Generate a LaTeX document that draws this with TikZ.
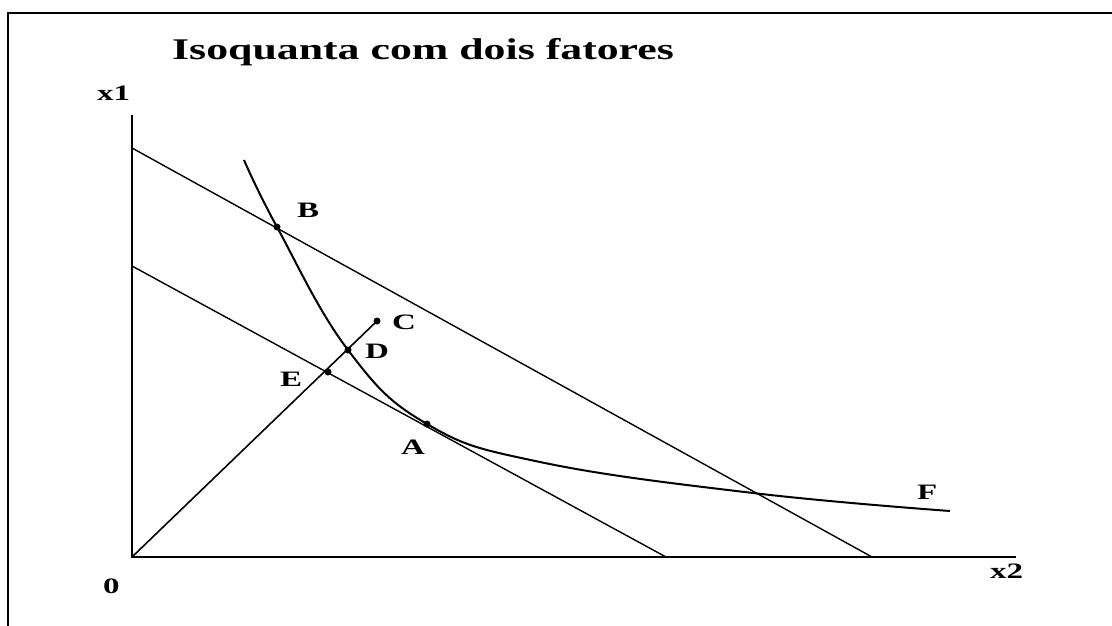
\documentclass[tikz,border=0pt]{standalone}
\usepackage{fontspec}
\setmainfont{Liberation Serif}
\newcommand\lblstretch[1]{\scalebox{1.5}[1]{#1}}
\begin{document}
\begin{tikzpicture}[x=1pt,y=-1pt,
  frame/.style={line width=2pt},
  axis/.style={line width=2pt},
  budget/.style={line width=1.4pt},
  ray/.style={line width=1.6pt},
  isoq/.style={line width=2pt},
  lab/.style={inner sep=0pt, anchor=base west, font=\fontsize{22}{26}\selectfont\bfseries},
  ttl/.style={inner sep=0pt, anchor=base west, font=\fontsize{30}{34}\selectfont\bfseries},
  pt/.style={circle, fill=black, inner sep=0pt, minimum size=7pt}]
\useasboundingbox (0,0) rectangle (1112,626);
\fill[white] (0,0) rectangle (1112,626);
% frame
\draw[frame] (8,626) -- (8,13) -- (1112,13);
% coordinates
\coordinate (O) at (132,557);
\coordinate (ytop) at (132,115);
\coordinate (xend) at (1016,557);
\coordinate (U1) at (132,148);
\coordinate (U2) at (872,557);
\coordinate (L1) at (132,266);
\coordinate (L2) at (666,557);
\coordinate (Fend) at (950,511);
\coordinate (Istart) at (244,160);
% axes
\draw[axis] (ytop) -- (O) -- (xend);
% budget lines
\draw[budget] (U1) -- (U2);
\draw[budget] (L1) -- (L2);
% points
\node[pt] (C) at (377,321) {};
\node[pt] (B) at (277,227) {};
\node[pt] (D) at (348,350) {};
\node[pt] (E) at (328,372) {};
\node[pt] (A) at (427,424) {};
% ray
\draw[ray] (O) -- (C.center);
% isoquant
\draw[isoq] plot[smooth, tension=0.7] coordinates {(Istart) (277,227) (348,350) (427,424) (540,462) (753,493) (Fend)};
% labels
\node[ttl] (title) at (172,60) {\scalebox{1.46}[1]{Isoquanta com dois fatores}};
\node[lab] (lx1) at (97,100) {\lblstretch{x1}};
\node[lab] (l0) at (103,593) {\lblstretch{0}};
\node[lab] (lx2) at (990,578) {\lblstretch{x2}};
\node[lab] (lF) at (917,499) {\lblstretch{F}};
\node[lab] (lB) at (297,217) {\lblstretch{B}};
\node[lab] (lC) at (392,329) {\lblstretch{C}};
\node[lab] (lD) at (365,358) {\lblstretch{D}};
\node[lab] (lE) at (280,386) {\lblstretch{E}};
\node[lab] (lA) at (401,454) {\lblstretch{A}};
\end{tikzpicture}
\end{document}
